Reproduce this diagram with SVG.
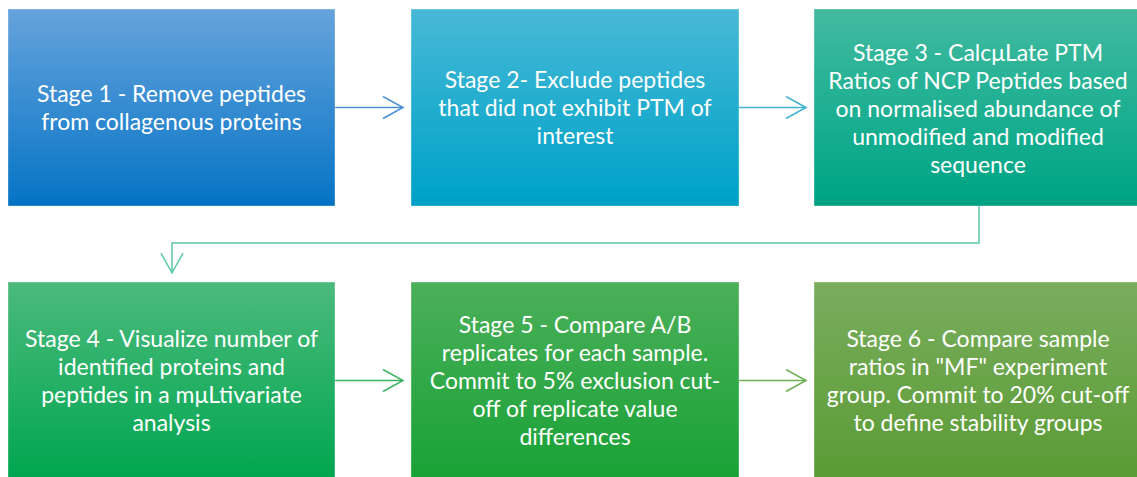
<svg xmlns="http://www.w3.org/2000/svg" width="1137" height="477" viewBox="0 0 1137 477">
<defs>
<linearGradient id="g1" x1="0" y1="0" x2="0" y2="1"><stop offset="0" stop-color="#66a3dc"/><stop offset="0.95" stop-color="#0a76c6"/><stop offset="1" stop-color="#0070c0"/></linearGradient>
<linearGradient id="g2" x1="0" y1="0" x2="0" y2="1"><stop offset="0" stop-color="#48b9d6"/><stop offset="0.95" stop-color="#00a2c8"/><stop offset="1" stop-color="#009ec4"/></linearGradient>
<linearGradient id="g3" x1="0" y1="0" x2="0" y2="1"><stop offset="0" stop-color="#42baa0"/><stop offset="0.95" stop-color="#00a686"/><stop offset="1" stop-color="#00a080"/></linearGradient>
<linearGradient id="g4" x1="0" y1="0" x2="0" y2="1"><stop offset="0" stop-color="#4cba7c"/><stop offset="1" stop-color="#00a650"/></linearGradient>
<linearGradient id="g5" x1="0" y1="0" x2="0" y2="1"><stop offset="0" stop-color="#4caf5a"/><stop offset="1" stop-color="#18a236"/></linearGradient>
<linearGradient id="g6" x1="0" y1="0" x2="0" y2="1"><stop offset="0" stop-color="#7aad5e"/><stop offset="1" stop-color="#5a9b34"/></linearGradient>
<marker id="a1" markerUnits="userSpaceOnUse" markerWidth="24" markerHeight="26" refX="21" refY="12" orient="auto" viewBox="0 0 24 26"><path d="M1,1 L21,12 L1,23" fill="none" stroke="#4a8fd6" stroke-width="1.5"/></marker>
<marker id="a2" markerUnits="userSpaceOnUse" markerWidth="24" markerHeight="26" refX="21" refY="12" orient="auto" viewBox="0 0 24 26"><path d="M1,1 L21,12 L1,23" fill="none" stroke="#40b2d2" stroke-width="1.5"/></marker>
<marker id="a3" markerUnits="userSpaceOnUse" markerWidth="24" markerHeight="26" refX="21" refY="12" orient="auto" viewBox="0 0 24 26"><path d="M1,1 L21,12 L1,23" fill="none" stroke="#5cc8a0" stroke-width="1.5"/></marker>
<marker id="a4" markerUnits="userSpaceOnUse" markerWidth="24" markerHeight="26" refX="21" refY="12" orient="auto" viewBox="0 0 24 26"><path d="M1,1 L21,12 L1,23" fill="none" stroke="#3cb462" stroke-width="1.5"/></marker>
<marker id="a5" markerUnits="userSpaceOnUse" markerWidth="24" markerHeight="26" refX="21" refY="12" orient="auto" viewBox="0 0 24 26"><path d="M1,1 L21,12 L1,23" fill="none" stroke="#6cb052" stroke-width="1.5"/></marker>
</defs>
<style>
.box{stroke:#ffffff;stroke-opacity:0.35;stroke-width:1}
.t{font-family:"Lato","Liberation Sans",sans-serif;font-size:23px;fill:#ffffff;text-anchor:middle}
.c{fill:none;stroke-width:1.5}
</style>
<rect width="1137" height="477" fill="#ffffff"/>
<g id="connectors">
<line class="c" x1="335" y1="107.5" x2="403" y2="107.5" stroke="#4a8fd6" marker-end="url(#a1)"/>
<line class="c" x1="739" y1="107.5" x2="806" y2="107.5" stroke="#40b2d2" marker-end="url(#a2)"/>
<polyline class="c" points="979,206 979,243 172,243 172,273" stroke="#5cc8a0" marker-end="url(#a3)"/>
<line class="c" x1="335" y1="380.5" x2="403" y2="380.5" stroke="#3cb462" marker-end="url(#a4)"/>
<line class="c" x1="739" y1="380.5" x2="806" y2="380.5" stroke="#6cb052" marker-end="url(#a5)"/>
</g>
<g id="stage1">
<rect class="box" x="8" y="9" width="327" height="197" fill="url(#g1)"/>
<text class="t" x="171.5"><tspan x="171.5" y="102">Stage 1 - Remove peptides</tspan><tspan x="171.5" y="130">from collagenous proteins</tspan></text>
</g>
<g id="stage2">
<rect class="box" x="411" y="9" width="328" height="197" fill="url(#g2)"/>
<text class="t"><tspan x="575" y="88">Stage 2- Exclude peptides</tspan><tspan x="575" y="116">that did not exhibit PTM of</tspan><tspan x="575" y="144">interest</tspan></text>
</g>
<g id="stage3">
<rect class="box" x="814" y="9" width="328" height="197" fill="url(#g3)"/>
<text class="t"><tspan x="978" y="61">Stage 3 - Calc&#956;Late PTM</tspan><tspan x="978" y="89">Ratios of NCP Peptides based</tspan><tspan x="978" y="117">on normalised abundance of</tspan><tspan x="978" y="145">unmodified and modified</tspan><tspan x="978" y="173">sequence</tspan></text>
</g>
<g id="stage4">
<rect class="box" x="8" y="282" width="327" height="197" fill="url(#g4)"/>
<text class="t"><tspan x="171.5" y="347">Stage 4 - Visualize number of</tspan><tspan x="171.5" y="375">identified proteins and</tspan><tspan x="171.5" y="403">peptides in a m&#956;Ltivariate</tspan><tspan x="171.5" y="431">analysis</tspan></text>
</g>
<g id="stage5">
<rect class="box" x="411" y="282" width="328" height="197" fill="url(#g5)"/>
<text class="t"><tspan x="575" y="333">Stage 5 - Compare A/B</tspan><tspan x="575" y="361">replicates for each sample.</tspan><tspan x="575" y="389">Commit to 5% exclusion cut-</tspan><tspan x="575" y="417">off of replicate value</tspan><tspan x="575" y="445">differences</tspan></text>
</g>
<g id="stage6">
<rect class="box" x="814" y="282" width="328" height="197" fill="url(#g6)"/>
<text class="t"><tspan x="978" y="347">Stage 6 - Compare sample</tspan><tspan x="978" y="375">ratios in "MF" experiment</tspan><tspan x="978" y="403">group. Commit to 20% cut-off</tspan><tspan x="978" y="431">to define stability groups</tspan></text>
</g>
</svg>
